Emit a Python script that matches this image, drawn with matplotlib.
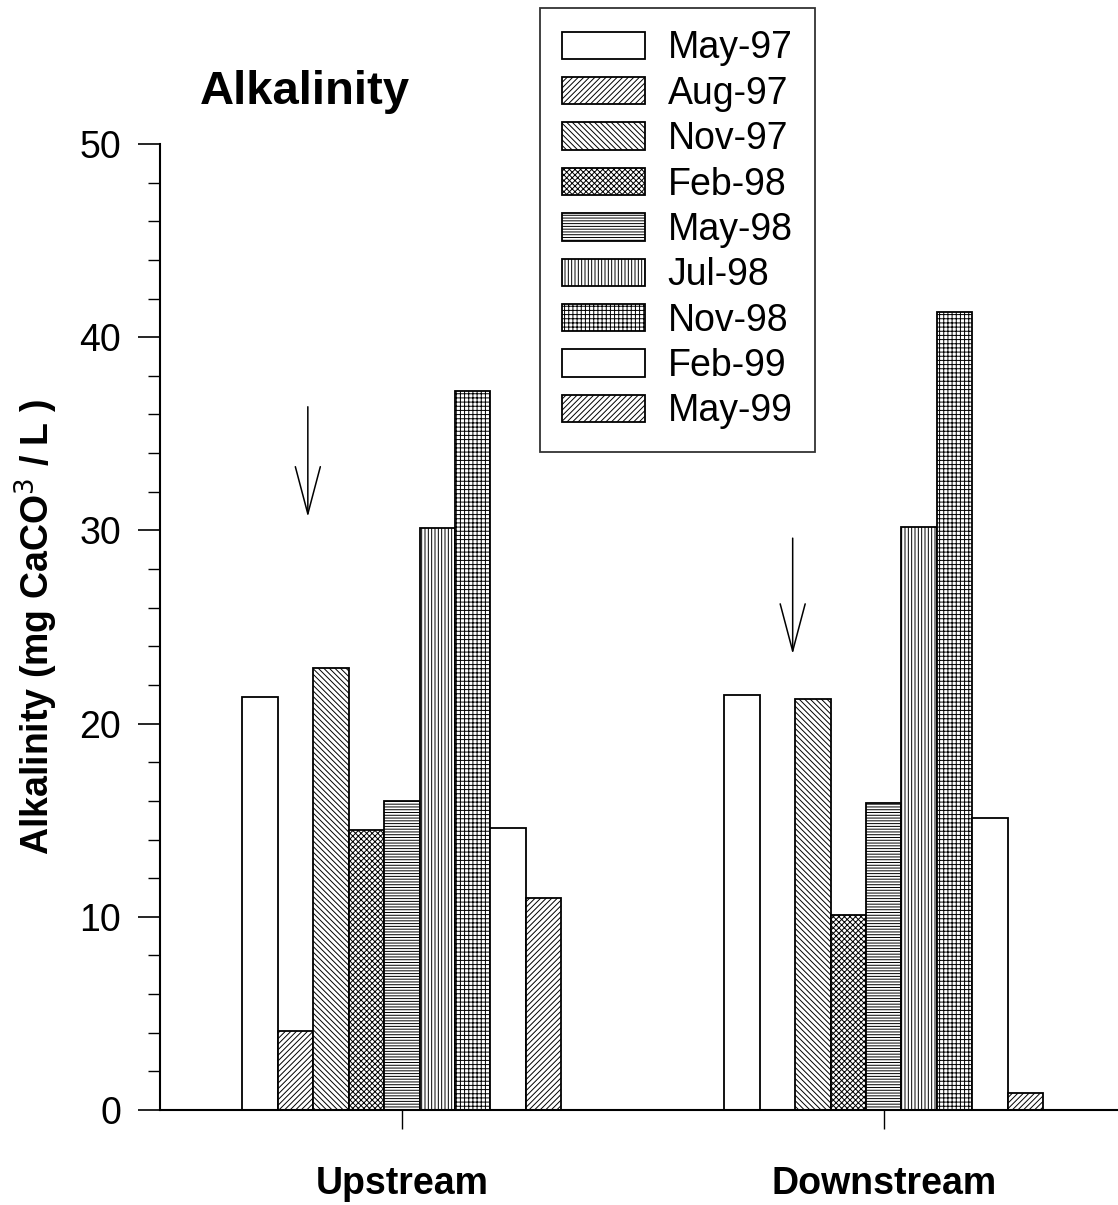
import numpy as np
import matplotlib
matplotlib.use("Agg")
import matplotlib.pyplot as plt

plt.rcParams['font.family'] = ['Liberation Sans', 'DejaVu Sans']
plt.rcParams['hatch.linewidth'] = 0.7
plt.rcParams['hatch.color'] = '#444444'

# data
sites = ['Upstream', 'Downstream']
dates = ['May-97', 'Aug-97', 'Nov-97', 'Feb-98', 'May-98',
         'Jul-98', 'Nov-98', 'Feb-99', 'May-99']
upstream = [21.4, 4.1, 22.9, 14.5, 16.0, 30.1, 37.2, 14.6, 11.0]
downstream = [21.5, np.nan, 21.3, 10.1, 15.9, 30.2, 41.3, 15.1, 0.9]
hatches = ['', '//////', '\\\\\\\\\\\\', 'xxxxxx', '------',
           '|||||', '++++', '', '//////']

fig = plt.figure(figsize=(11.18, 12.05), dpi=100)
ax = fig.add_axes([0.143, 0.0788, 0.857, 0.8017])

x = np.arange(len(sites))
w = 0.0735
for i, d in enumerate(dates):
    vals = [upstream[i], downstream[i]]
    ax.bar(x + (i - 4) * w, vals, w, color='white', edgecolor='black',
           linewidth=1.3, hatch=hatches[i], label=d)

ax.set_xlim(-0.502, 1.486)
ax.set_ylim(0, 50)
ax.set_yticks(np.arange(0, 51, 10))
ax.set_yticks(np.arange(0, 51, 2), minor=True)
ax.set_xticks(x)
ax.set_xticklabels(sites, fontsize=27, fontweight='bold')
ax.tick_params(axis='y', which='major', length=16, width=1.2, labelsize=27, pad=12)
ax.tick_params(axis='y', which='minor', length=9, width=1.0)
ax.tick_params(axis='x', length=14, width=1.0, pad=26)
for s in ['top', 'right']:
    ax.spines[s].set_visible(False)
ax.spines['left'].set_linewidth(1.5)
ax.spines['bottom'].set_linewidth(1.5)

ax.set_ylabel('Alkalinity (mg CaCO$^3$ / L )', fontsize=27, fontweight='bold',
              labelpad=14)

fig.text(200 / 1118, 1 - 104 / 1205, 'Alkalinity', fontsize=34,
         fontweight='bold', ha='left', va='baseline')

# arrows
for ax_x, y0, y1 in [(-0.195, 36.4, 30.7), (0.811, 29.6, 23.6)]:
    ax.annotate('', xy=(ax_x, y1), xytext=(ax_x, y0),
                arrowprops=dict(arrowstyle='->,head_length=1.7,head_width=0.45',
                                mutation_scale=20, shrinkA=0, shrinkB=0,
                                color='black', lw=1.1))

leg = fig.legend(loc='upper left', bbox_to_anchor=(0.483, 0.9934),
                 fontsize=27, frameon=True, fancybox=False, edgecolor='black',
                 handlelength=2.2, handleheight=0.75, handletextpad=0.6,
                 labelspacing=0.25, borderpad=0.6, borderaxespad=0)
leg.get_frame().set_linewidth(1.3)

fig.savefig('out.png', dpi=100)
